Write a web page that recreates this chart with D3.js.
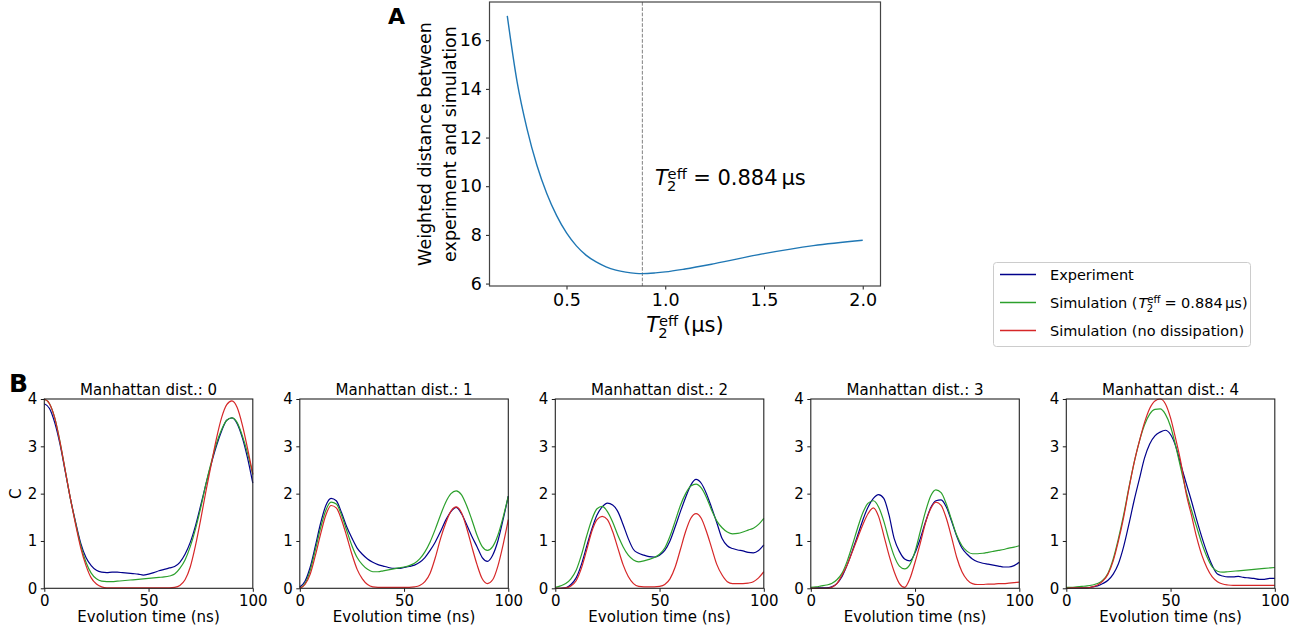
<!DOCTYPE html>
<html><head><meta charset="utf-8">
<script src="https://cdn.jsdelivr.net/npm/d3@7"></script>
<style>
body{margin:0;background:#fff;}
svg{display:block;font-family:"DejaVu Sans",sans-serif;}
</style></head><body>
<svg id="c" width="1316" height="639"></svg>
<script>
// ---------- Panel A data ----------
const t2Values = [0.2, 0.25, 0.3, 0.35, 0.4, 0.45, 0.5, 0.55, 0.6, 0.65, 0.7, 0.75, 0.8, 0.85, 0.884, 0.95, 1.0, 1.1, 1.25, 1.5, 1.75, 2.0];
const weightedDistance = [17.0, 14.28, 12.36, 10.86, 9.70, 8.79, 8.08, 7.55, 7.16, 6.89, 6.69, 6.555, 6.47, 6.42, 6.41, 6.44, 6.48, 6.6, 6.82, 7.23, 7.56, 7.78];
const t2Optimal = 0.884;
const aXTicks = [0.5, 1.0, 1.5, 2.0];
const aYTicks = [6, 8, 10, 12, 14, 16];

// ---------- Panel B data ----------
const timeNs = [0, 2.5, 5, 7.5, 10, 12.5, 15, 17.5, 20, 22.5, 25, 27.5, 30, 32.5, 35, 37.5, 40, 42.5, 45, 47.5, 50,
  52.5, 55, 57.5, 60, 62.5, 65, 67.5, 70, 72.5, 75, 77.5, 80, 82.5, 85, 87.5, 90, 92.5, 95, 97.5, 100];
const panelTitles = ["Manhattan dist.: 0", "Manhattan dist.: 1", "Manhattan dist.: 2", "Manhattan dist.: 3", "Manhattan dist.: 4"];
const bXTicks = [0, 50, 100];
const bYTicks = [0, 1, 2, 3, 4];
const seriesNames = ["Experiment", "Simulation", "Simulation (no dissipation)"];

const experiment0 = [3.9, 3.8, 3.5, 3.05, 2.48, 1.9, 1.4, 0.95, 0.65, 0.48, 0.38, 0.34, 0.33, 0.34, 0.34, 0.33, 0.32, 0.31, 0.3, 0.28, 0.3, 0.33, 0.37, 0.4, 0.43, 0.46, 0.55, 0.72, 0.97, 1.32, 1.75, 2.2, 2.62, 3.0, 3.32, 3.55, 3.6, 3.48, 3.18, 2.75, 2.22];
const simulation0 = [4.0, 3.9, 3.6, 3.1, 2.5, 1.9, 1.38, 0.9, 0.55, 0.32, 0.2, 0.15, 0.14, 0.14, 0.15, 0.16, 0.17, 0.18, 0.19, 0.2, 0.21, 0.22, 0.23, 0.24, 0.26, 0.3, 0.42, 0.6, 0.88, 1.25, 1.7, 2.2, 2.65, 3.05, 3.35, 3.55, 3.6, 3.5, 3.22, 2.85, 2.4];
const noDissipation0 = [4.0, 3.9, 3.6, 3.1, 2.5, 1.9, 1.35, 0.85, 0.48, 0.22, 0.09, 0.03, 0.01, 0.01, 0.01, 0.01, 0.01, 0.01, 0.01, 0.01, 0.01, 0.01, 0.01, 0.01, 0.01, 0.02, 0.06, 0.18, 0.45, 0.9, 1.45, 2.05, 2.6, 3.15, 3.6, 3.88, 3.96, 3.82, 3.45, 2.95, 2.42];

const experiment1 = [0.03, 0.15, 0.45, 0.9, 1.38, 1.75, 1.9, 1.85, 1.6, 1.3, 1.06, 0.85, 0.72, 0.62, 0.55, 0.5, 0.47, 0.44, 0.42, 0.42, 0.44, 0.46, 0.49, 0.55, 0.65, 0.8, 0.98, 1.2, 1.44, 1.62, 1.71, 1.58, 1.35, 1.1, 0.88, 0.65, 0.57, 0.7, 1.0, 1.45, 1.95];
const simulation1 = [0.0, 0.1, 0.38, 0.82, 1.28, 1.65, 1.82, 1.78, 1.55, 1.22, 0.9, 0.65, 0.5, 0.4, 0.35, 0.35, 0.37, 0.39, 0.41, 0.43, 0.45, 0.48, 0.53, 0.62, 0.77, 0.98, 1.25, 1.55, 1.82, 2.0, 2.06, 1.98, 1.75, 1.45, 1.12, 0.88, 0.8, 0.88, 1.12, 1.5, 1.95];
const noDissipation1 = [0.0, 0.08, 0.3, 0.7, 1.15, 1.55, 1.75, 1.7, 1.45, 1.1, 0.72, 0.4, 0.2, 0.08, 0.03, 0.02, 0.02, 0.02, 0.02, 0.02, 0.02, 0.02, 0.03, 0.06, 0.14, 0.32, 0.65, 1.05, 1.38, 1.63, 1.72, 1.6, 1.28, 0.88, 0.5, 0.2, 0.1, 0.18, 0.47, 0.92, 1.45];

const experiment2 = [0.0, 0.0, 0.01, 0.08, 0.22, 0.5, 0.88, 1.25, 1.55, 1.72, 1.8, 1.76, 1.62, 1.35, 1.05, 0.82, 0.74, 0.7, 0.67, 0.66, 0.7, 0.8, 1.0, 1.3, 1.62, 1.92, 2.18, 2.3, 2.22, 2.0, 1.7, 1.38, 1.05, 0.9, 0.84, 0.81, 0.79, 0.76, 0.75, 0.8, 0.92];
const simulation2 = [0.02, 0.05, 0.1, 0.2, 0.38, 0.7, 1.1, 1.45, 1.68, 1.73, 1.62, 1.4, 1.12, 0.88, 0.7, 0.6, 0.56, 0.58, 0.61, 0.65, 0.72, 0.85, 1.1, 1.42, 1.75, 2.0, 2.16, 2.2, 2.12, 1.92, 1.65, 1.42, 1.28, 1.19, 1.15, 1.16, 1.19, 1.23, 1.27, 1.35, 1.48];
const noDissipation2 = [0.0, 0.0, 0.01, 0.05, 0.16, 0.42, 0.8, 1.2, 1.45, 1.52, 1.45, 1.2, 0.85, 0.5, 0.25, 0.1, 0.04, 0.03, 0.03, 0.03, 0.04, 0.08, 0.2, 0.45, 0.82, 1.2, 1.48, 1.58, 1.48, 1.2, 0.85, 0.5, 0.28, 0.14, 0.1, 0.1, 0.1, 0.11, 0.14, 0.22, 0.35];

const experiment3 = [0.0, 0.01, 0.01, 0.01, 0.03, 0.1, 0.25, 0.5, 0.8, 1.12, 1.45, 1.72, 1.9, 1.98, 1.9, 1.55, 1.05, 0.78, 0.62, 0.58, 0.75, 1.05, 1.4, 1.7, 1.85, 1.87, 1.72, 1.42, 1.1, 0.85, 0.72, 0.62, 0.56, 0.53, 0.51, 0.49, 0.47, 0.45, 0.45, 0.48, 0.55];
const simulation3 = [0.02, 0.03, 0.05, 0.07, 0.1, 0.18, 0.32, 0.58, 0.92, 1.28, 1.6, 1.8, 1.85, 1.72, 1.42, 1.02, 0.68, 0.47, 0.41, 0.5, 0.78, 1.2, 1.62, 1.95, 2.08, 2.02, 1.78, 1.45, 1.12, 0.9, 0.78, 0.73, 0.73, 0.74, 0.76, 0.78, 0.8, 0.82, 0.85, 0.87, 0.9];
const noDissipation3 = [0.0, 0.0, 0.0, 0.0, 0.02, 0.1, 0.28, 0.5, 0.78, 1.07, 1.35, 1.58, 1.7, 1.52, 1.12, 0.7, 0.35, 0.1, 0.02, 0.2, 0.55, 0.95, 1.38, 1.68, 1.82, 1.75, 1.48, 1.08, 0.65, 0.35, 0.18, 0.1, 0.08, 0.08, 0.09, 0.09, 0.1, 0.1, 0.11, 0.12, 0.13];

const experiment4 = [0.0, 0.01, 0.01, 0.01, 0.01, 0.03, 0.05, 0.1, 0.17, 0.3, 0.52, 0.88, 1.35, 1.85, 2.3, 2.75, 3.05, 3.22, 3.3, 3.34, 3.25, 3.0, 2.6, 2.22, 1.85, 1.45, 1.08, 0.75, 0.48, 0.3, 0.26, 0.24, 0.24, 0.25, 0.23, 0.22, 0.21, 0.19, 0.19, 0.21, 0.21];
const simulation4 = [0.02, 0.02, 0.03, 0.04, 0.05, 0.07, 0.1, 0.17, 0.32, 0.62, 1.05, 1.55, 2.12, 2.65, 3.1, 3.45, 3.68, 3.78, 3.79, 3.68, 3.42, 3.0, 2.52, 2.05, 1.66, 1.3, 0.95, 0.66, 0.45, 0.36, 0.34, 0.35, 0.36, 0.37, 0.38, 0.39, 0.4, 0.41, 0.42, 0.43, 0.44];
const noDissipation4 = [0.0, 0.01, 0.01, 0.01, 0.01, 0.03, 0.07, 0.15, 0.3, 0.58, 1.0, 1.5, 2.1, 2.65, 3.1, 3.5, 3.8, 3.96, 4.0, 3.9, 3.6, 3.15, 2.65, 2.0, 1.55, 1.08, 0.7, 0.43, 0.24, 0.14, 0.09, 0.07, 0.06, 0.06, 0.06, 0.06, 0.06, 0.06, 0.06, 0.06, 0.06];

const experimentSeries = [experiment0, experiment1, experiment2, experiment3, experiment4];
const simulationSeries = [simulation0, simulation1, simulation2, simulation3, simulation4];
const noDissipationSeries = [noDissipation0, noDissipation1, noDissipation2, noDissipation3, noDissipation4];

// ---------- drawing ----------
const COL_EXP = "#00008b", COL_SIM = "#2ca02c", COL_IDEAL = "#d62728", COL_A = "#1f77b4";
const svg = d3.select("#c");

function styleAxis(g, fs) {
  g.select(".domain").remove();
  g.selectAll(".tick line").attr("stroke", "#000").attr("stroke-width", 0.9);
  g.selectAll(".tick text").attr("fill", "#000").attr("font-size", fs).attr("font-family", "DejaVu Sans");
}

function measure(parent, txt, size, italic) {
  const t = parent.append("text").attr("font-size", size).attr("font-style", italic ? "italic" : null).text(txt);
  const w = t.node().getComputedTextLength();
  t.remove();
  return w;
}

// One <text>: [before] T_2^eff [after parts]; returns total width
function t2effText(parent, x, y, fs, before, after) {
  const wB = before ? measure(parent, before, fs) : 0;
  const xT = x + wB + (before ? 1 : 0);
  const wT = measure(parent, "T", fs, true);
  const xs = xT + wT - 0.04 * fs;
  const w2 = measure(parent, "2", fs * 0.7), wE = measure(parent, "eff", fs * 0.7);
  let cursor = Math.max(xs + w2, xs + 0.03 * fs + wE);
  const t = parent.append("text").attr("x", x).attr("y", y).attr("font-size", fs);
  if (before) t.append("tspan").attr("x", x).attr("y", y).text(before);
  t.append("tspan").attr("x", xT).attr("y", y).attr("font-style", "italic").text("T");
  t.append("tspan").attr("x", xs).attr("y", y + 0.3 * fs).attr("font-size", 0.7 * fs).text("2");
  t.append("tspan").attr("x", xs + 0.03 * fs).attr("y", y - 0.28 * fs).attr("font-size", 0.7 * fs).text("eff");
  after.forEach(([txt, gap]) => {
    t.append("tspan").attr("x", cursor + gap).attr("y", y).text(txt);
    cursor += gap + measure(parent, txt, fs);
  });
  return cursor - x;
}

// ===== Panel A =====
const aL = 489.5, aR = 880.5, aT = 2, aB = 286;
const xA = d3.scaleLinear().domain([0.11, 2.09]).range([aL, aR]);
const yA = d3.scaleLinear().domain([5.9, 17.57]).range([aB, aT]);
const gA = svg.append("g");

gA.append("g").attr("transform", `translate(0,${aB})`)
  .call(d3.axisBottom(xA).tickValues(aXTicks).tickFormat(d3.format(".1f")).tickSizeOuter(0).tickSize(3.5).tickPadding(4))
  .call(g => styleAxis(g, 17.5));
gA.append("g").attr("transform", `translate(${aL},0)`)
  .call(d3.axisLeft(yA).tickValues(aYTicks).tickFormat(d3.format("d")).tickSizeOuter(0).tickSize(3.5).tickPadding(4))
  .call(g => styleAxis(g, 17.5));

gA.append("line").attr("x1", xA(t2Optimal)).attr("x2", xA(t2Optimal)).attr("y1", aT).attr("y2", aB)
  .attr("stroke", "#808080").attr("stroke-width", 1).attr("stroke-dasharray", "3.7,1.6");

gA.append("path").datum(t2Values.map((t, i) => [t, weightedDistance[i]]))
  .attr("fill", "none").attr("stroke", COL_A).attr("stroke-width", 1.4)
  .attr("d", d3.line().x(d => xA(d[0])).y(d => yA(d[1])).curve(d3.curveMonotoneX));

gA.append("rect").attr("x", aL).attr("y", aT).attr("width", aR - aL).attr("height", aB - aT)
  .attr("fill", "none").attr("stroke", "#444").attr("stroke-width", 1.2);

// annotation
t2effText(gA, 655, 185, 21, null, [["=", 6.5], ["0.884", 6.5], ["μs", 4]]);
// x label
{
  const g = gA.append("g");
  const w = t2effText(g, 0, 332, 21, null, [["(μs)", 5]]);
  g.attr("transform", `translate(${(aL + aR) / 2 - w / 2},0)`);
}
// y label
gA.append("text").attr("transform", `translate(425,${(aT + aB) / 2}) rotate(-90)`).attr("text-anchor", "middle")
  .attr("font-size", 17.5).attr("dy", "0.35em").text("Weighted distance between");
gA.append("text").attr("transform", `translate(450,${(aT + aB) / 2}) rotate(-90)`).attr("text-anchor", "middle")
  .attr("font-size", 17.5).attr("dy", "0.35em").text("experiment and simulation");
svg.append("text").attr("x", 388).attr("y", 24).attr("font-size", 22).attr("font-weight", "bold").text("A");

// ===== Legend =====
{
  const g = svg.append("g");
  g.append("rect").attr("x", 993.5).attr("y", 262.5).attr("width", 257).attr("height", 84).attr("rx", 3)
    .attr("fill", "#fff").attr("stroke", "#cccccc").attr("stroke-width", 1);
  const rows = [274.5, 302.5, 330.5];
  const cols = [COL_EXP, COL_SIM, COL_IDEAL];
  const fs = 14.5;
  rows.forEach((y, i) => {
    g.append("line").attr("x1", 1000).attr("x2", 1036).attr("y1", y).attr("y2", y)
      .attr("stroke", cols[i]).attr("stroke-width", 1.3);
  });
  g.append("text").attr("x", 1050).attr("y", rows[0] + 5).attr("font-size", fs).text(seriesNames[0]);
  t2effText(g, 1050, rows[1] + 5, fs, seriesNames[1] + " (", [["=", 4], ["0.884", 4.5], ["μs)", 2.5]]);
  g.append("text").attr("x", 1050).attr("y", rows[2] + 5).attr("font-size", fs).text(seriesNames[2]);
}

// ===== Panel B =====
const bLeft0 = 44.3, bStep = 255.5, bW = 208.5, bT = 399, bB = 588.3;
svg.append("text").attr("x", 9).attr("y", 391.5).attr("font-size", 25).attr("font-weight", "bold").text("B");

panelTitles.forEach((title, i) => {
  const left = bLeft0 + i * bStep;
  const x = d3.scaleLinear().domain([0, 100]).range([left, left + bW]);
  const y = d3.scaleLinear().domain([0, 4]).range([bB, bT]);
  const g = svg.append("g");
  const line = d3.line().x((d, k) => x(timeNs[k])).y(d => y(d)).curve(d3.curveMonotoneX);

  [[experimentSeries[i], COL_EXP], [simulationSeries[i], COL_SIM], [noDissipationSeries[i], COL_IDEAL]].forEach(([s, c]) => {
    g.append("path").datum(s).attr("fill", "none").attr("stroke", c).attr("stroke-width", 1.2).attr("d", line);
  });

  g.append("g").attr("transform", `translate(0,${bB})`)
    .call(d3.axisBottom(x).tickValues(bXTicks).tickFormat(d3.format("d")).tickSizeOuter(0).tickSize(3.5).tickPadding(3.5))
    .call(a => styleAxis(a, 15));
  g.append("g").attr("transform", `translate(${left},0)`)
    .call(d3.axisLeft(y).tickValues(bYTicks).tickFormat(d3.format("d")).tickSizeOuter(0).tickSize(3.5).tickPadding(3.5))
    .call(a => styleAxis(a, 15));

  g.append("rect").attr("x", left).attr("y", bT).attr("width", bW).attr("height", bB - bT)
    .attr("fill", "none").attr("stroke", "#222").attr("stroke-width", 1.1);

  g.append("text").attr("x", left + bW / 2).attr("y", 395).attr("text-anchor", "middle").attr("font-size", 15).text(title);
  g.append("text").attr("x", left + bW / 2).attr("y", 622).attr("text-anchor", "middle").attr("font-size", 15).text("Evolution time (ns)");
});
svg.append("text").attr("transform", `translate(15.5,${(bT + bB) / 2}) rotate(-90)`).attr("text-anchor", "middle")
  .attr("dy", "0.35em").attr("font-size", 15).text("C");
</script>
</body></html>
